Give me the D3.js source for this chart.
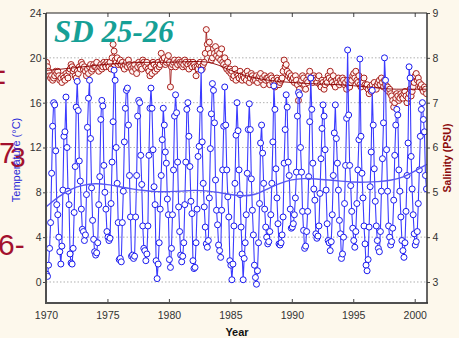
<!DOCTYPE html>
<html><head><meta charset="utf-8">
<script src="https://cdn.jsdelivr.net/npm/d3@7"></script>
<style>body{margin:0;background:#fdf8ec;} svg{display:block}</style>
</head><body><svg id="c" width="459" height="338"></svg>
<script>
const years = [1970,1971,1972,1973,1974,1975,1976,1977,1978,1979,1980,1981,1982,1983,1984,1985,1986,1987,1988,1989,1990,1991,1992,1993,1994,1995,1996,1997,1998,1999,2000];
// monthly temperature (°C), one row per year, Jan..Dec
const temperature = [
 [0.7,0.5,1.5,3.0,5.3,9.7,13.9,16.0,15.8,11.7,6.9,6.0],
 [4.0,2.7,1.6,3.2,8.2,13.0,13.4,16.5,12.0,8.1,6.9,2.5],
 [1.7,1.6,3.0,6.2,10.3,15.6,17.9,15.3,10.8,9.0,6.5,4.7],
 [4.5,3.7,4.2,7.8,13.8,16.4,18.0,12.8,8.4,5.5,3.8,2.7],
 [2.4,2.6,3.5,6.9,9.4,14.5,16.2,15.7,10.4,8.0,6.5,4.5],
 [4.0,3.7,3.9,7.0,10.7,14.3,18.9,18.0,12.0,8.8,5.3,2.0],
 [2.1,1.8,5.3,8.1,12.5,15.5,17.1,17.3,14.0,9.5,5.8,2.3],
 [2.4,2.1,2.3,5.8,9.5,14.8,16.2,16.0,11.3,8.7,5.0,3.0],
 [2.8,1.9,2.5,5.0,11.3,15.5,17.3,15.5,11.8,8.5,6.9,1.9],
 [0.3,1.6,3.5,6.5,9.5,12.7,15.5,14.0,11.6,10.6,7.4,6.0],
 [2.0,1.3,3.0,6.0,10.0,14.8,16.7,15.1,10.7,6.7,4.5,2.4],
 [1.8,2.3,3.5,6.9,10.7,15.4,16.0,13.0,10.3,7.2,6.1,1.9],
 [1.2,1.3,3.5,6.5,11.2,12.1,15.4,18.9,12.5,8.8,6.7,4.9],
 [3.4,3.1,3.7,7.5,11.9,15.0,17.7,17.1,14.2,9.1,6.4,5.1],
 [3.3,2.8,2.2,6.4,10.0,13.9,17.4,14.0,10.0,7.6,5.8,1.9],
 [1.5,0.2,1.6,5.0,8.8,13.1,16.0,13.5,10.0,7.8,4.9,2.5],
 [0.2,2.1,3.5,6.0,9.7,13.6,15.9,13.6,9.2,6.4,4.2,1.5],
 [0.4,-0.2,1.0,3.5,7.0,12.4,14.0,11.5,8.8,6.5,4.9,4.0],
 [3.4,3.6,4.5,6.0,8.8,12.5,17.5,15.4,10.1,7.5,5.2,3.4],
 [3.3,3.5,4.2,5.8,10.6,13.6,16.7,15.6,10.7,9.5,6.5,4.8],
 [4.9,5.2,6.0,7.5,9.8,14.8,16.9,16.7,12.0,9.8,6.3,4.6],
 [3.0,3.2,4.5,6.3,9.4,14.3,18.2,15.4,10.6,8.3,7.3,4.3],
 [3.9,4.1,5.0,7.9,11.0,13.7,15.8,14.8,11.8,8.2,5.2,3.7],
 [3.5,2.8,3.6,6.0,9.5,13.3,15.8,12.8,10.6,8.2,5.5,4.3],
 [2.1,2.5,4.0,7.0,10.4,14.6,20.7,14.9,10.4,8.6,6.3,4.8],
 [3.7,3.1,4.5,7.0,10.0,12.7,19.9,13.0,9.7,7.5,5.0,3.4],
 [1.5,1.0,2.0,4.9,8.5,11.6,17.1,14.0,10.1,7.2,5.0,3.7],
 [3.0,2.7,4.5,8.1,11.0,14.2,20.0,18.0,11.8,8.1,5.0,4.0],
 [3.3,3.6,4.8,7.3,11.3,14.0,15.4,14.9,10.0,8.1,5.8,3.7],
 [2.8,2.2,3.5,6.3,9.5,12.4,19.2,18.2,11.2,8.3,6.0,4.3],
 [3.3,3.6,4.5,7.0,10.0,13.0,15.4,16.0,14.5,13.4,9.5,8.3]
];
// monthly salinity (PSU), one row per year, Jan..Dec
const salinity = [
 [7.9,7.8,7.7,7.6,7.55,7.6,7.5,7.55,7.6,7.7,7.65,7.7],
 [7.6,7.5,7.55,7.45,7.6,7.55,7.5,7.65,7.6,7.55,7.7,7.75],
 [7.85,7.8,7.7,7.75,7.6,7.55,7.7,7.65,7.8,7.75,7.9,7.85],
 [7.75,7.8,7.7,7.6,7.75,7.65,7.8,7.85,7.7,7.75,7.85,7.8],
 [7.8,7.9,7.75,7.7,7.8,7.85,7.75,7.8,7.9,7.85,7.8,7.9],
 [7.85,7.8,7.9,7.75,8.0,8.3,8.15,7.95,7.9,8.0,7.85,7.9],
 [7.95,7.85,7.9,7.8,7.75,7.85,7.9,7.8,7.95,7.85,7.8,7.75],
 [7.7,7.8,7.85,7.75,7.65,7.8,7.9,7.85,7.8,7.75,7.95,7.9],
 [7.85,7.8,7.9,7.75,7.7,7.6,7.8,7.65,7.9,7.85,7.7,7.8],
 [7.75,7.9,7.8,7.85,8.1,7.95,7.9,8.0,7.85,7.9,7.95,8.05],
 [7.9,7.35,7.8,7.85,7.9,7.95,7.8,7.9,7.85,7.95,7.9,7.85],
 [7.9,7.8,7.85,7.95,7.9,7.8,7.85,7.75,7.9,7.85,7.8,7.9],
 [7.85,7.8,7.6,7.8,7.75,7.85,7.9,7.8,7.75,7.85,7.9,8.1],
 [8.63,8.3,8.2,8.35,8.1,7.95,8.0,8.2,8.1,8.25,8.05,8.15],
 [8.0,8.1,7.95,8.2,7.9,7.85,8.0,7.8,7.75,7.9,7.7,7.75],
 [7.65,7.7,7.55,7.6,7.75,7.5,7.65,7.6,7.55,7.7,7.6,7.5],
 [7.6,7.55,7.65,7.5,7.7,7.6,7.45,7.55,7.65,7.6,7.5,7.55],
 [7.5,7.6,7.45,7.55,7.6,7.65,7.5,7.55,7.4,7.6,7.5,7.55],
 [7.55,7.5,7.4,7.6,7.55,7.45,7.5,7.35,7.45,7.55,7.5,7.4],
 [7.45,7.5,7.55,7.7,7.95,7.8,7.85,7.7,7.6,7.65,7.55,7.6],
 [7.5,7.55,7.45,7.6,7.5,7.4,7.05,7.3,7.45,7.5,7.6,7.55],
 [7.4,7.3,7.5,7.45,7.6,7.7,7.55,7.5,7.45,7.6,7.55,7.5],
 [7.45,7.55,7.6,7.4,7.35,7.5,7.45,7.3,7.4,7.5,7.45,7.6],
 [7.55,7.7,7.5,7.45,7.6,7.4,7.35,7.5,7.45,7.55,7.4,7.5],
 [7.45,7.55,7.5,7.4,7.45,7.3,7.5,7.4,7.35,7.45,7.5,7.6],
 [7.65,7.55,7.7,7.5,7.45,7.6,7.4,7.35,7.5,7.45,7.55,7.4],
 [7.35,7.4,7.3,7.2,7.35,7.25,7.4,7.3,7.45,7.35,7.3,7.4],
 [7.45,7.5,7.4,7.55,7.45,7.35,7.5,7.4,7.3,7.35,7.25,7.3],
 [7.2,7.15,7.05,6.9,7.0,7.1,7.2,7.15,7.05,7.1,7.2,7.15],
 [7.1,7.2,7.25,7.15,7.0,7.1,7.2,7.3,7.15,7.25,7.35,7.45],
 [7.6,7.65,7.5,7.55,7.45,7.35,7.4,7.3,7.25,7.35,7.3,7.2]
];
const trendYears = [1970,1971,1972,1973,1974,1975,1976,1977,1978,1979,1980,1981,1982,1983,1984,1985,1986,1987,1988,1989,1990,1991,1992,1993,1994,1995,1996,1997,1998,1999,2000,2001];
const tempTrend = [6.7,7.6,8.3,8.65,8.8,8.7,8.5,8.3,8.15,8.05,8.05,8.1,8.2,8.15,8.0,7.8,7.65,7.75,8.3,8.8,9.15,9.25,9.2,9.1,9.0,8.9,8.9,8.95,9.05,9.3,9.9,10.5];
const salTrend = [7.72,7.74,7.77,7.8,7.83,7.86,7.88,7.89,7.9,7.9,7.9,7.91,7.92,7.92,7.85,7.72,7.62,7.55,7.5,7.47,7.45,7.43,7.42,7.41,7.4,7.38,7.35,7.33,7.3,7.3,7.3,7.3];
const tempTicks = [0,4,8,12,16,20,24];
const salTicks = [3,4,5,6,7,8,9];
const yearTicks = [1970,1975,1980,1985,1990,1995,2000];

const svg = d3.select("#c");
const L = 46, R = 427, T = 13, B = 303;
const x = d3.scaleLinear().domain([1970, 2001]).range([L, R]);
const yT = d3.scaleLinear().domain([-1.875, 24]).range([B, T]);
const yS = d3.scaleLinear().domain([2.53125, 9]).range([B, T]);

const tPts = [], sPts = [];
years.forEach((yr, i) => {
  temperature[i].forEach((v, m) => { if (v != null) tPts.push({t: yr + (m + 0.5) / 12, v}); });
  salinity[i].forEach((v, m) => { if (v != null) sPts.push({t: yr + (m + 0.5) / 12, v}); });
});

svg.append("defs").append("clipPath").attr("id", "clip")
  .append("rect").attr("x", L).attr("y", T).attr("width", R - L).attr("height", B - T);

svg.append("rect").attr("x", L).attr("y", T).attr("width", R - L).attr("height", B - T).attr("fill", "#fff");

// grid
svg.append("g").selectAll("line").data(tempTicks.filter(d => d < 24)).join("line")
  .attr("x1", L).attr("x2", R).attr("y1", d => yT(d)).attr("y2", d => yT(d))
  .attr("stroke", "#b0b0b0").attr("stroke-width", 1).attr("stroke-dasharray", "1.5,2");

const plot = svg.append("g").attr("clip-path", "url(#clip)");

// salinity
plot.append("path").datum(sPts)
  .attr("d", d3.line().x(d => x(d.t)).y(d => yS(d.v)))
  .attr("fill", "none").attr("stroke", "#9a0a0a").attr("stroke-width", 0.8);
plot.append("g").selectAll("circle").data(sPts).join("circle")
  .attr("cx", d => x(d.t)).attr("cy", d => yS(d.v)).attr("r", 3)
  .attr("fill", "#fff4f2").attr("stroke", "#a8201c").attr("stroke-width", 1);
plot.append("path").datum(trendYears.map((t, i) => ({t, v: salTrend[i]})))
  .attr("d", d3.line().curve(d3.curveBasis).x(d => x(d.t)).y(d => yS(d.v)))
  .attr("fill", "none").attr("stroke", "#8a0000").attr("stroke-width", 0.9);

// temperature
plot.append("path").datum(tPts)
  .attr("d", d3.line().x(d => x(d.t)).y(d => yT(d.v)))
  .attr("fill", "none").attr("stroke", "#3c3cff").attr("stroke-width", 1.1);
plot.append("g").selectAll("circle").data(tPts).join("circle")
  .attr("cx", d => x(d.t)).attr("cy", d => yT(d.v)).attr("r", 3)
  .attr("fill", "#fff").attr("stroke", "#1a1aee").attr("stroke-width", 1);
plot.append("path").datum(trendYears.map((t, i) => ({t, v: tempTrend[i]})))
  .attr("d", d3.line().curve(d3.curveBasis).x(d => x(d.t)).y(d => yT(d.v)))
  .attr("fill", "none").attr("stroke", "#5858f2").attr("stroke-width", 1.4);

// axes
const fontCss = "10.5px 'Liberation Sans', Arial, sans-serif";
function styleAxis(g) {
  g.select(".domain").remove();
  g.selectAll("text").style("font", fontCss).attr("fill", "#333");
  g.selectAll("line").attr("stroke", "#444");
}
svg.append("g").attr("transform", `translate(${L},0)`)
  .call(d3.axisLeft(yT).tickValues(tempTicks).tickFormat(d3.format("d")).tickSize(3).tickPadding(1.5)).call(styleAxis);
svg.append("g").attr("transform", `translate(${R},0)`)
  .call(d3.axisRight(yS).tickValues(salTicks).tickFormat(d3.format("d")).tickSize(3).tickPadding(2.5)).call(styleAxis);
svg.append("g").attr("transform", `translate(0,${B})`)
  .call(d3.axisBottom(x).tickValues(yearTicks).tickFormat(d3.format("d")).tickSizeInner(-4).tickSizeOuter(0).tickPadding(8.5)).call(styleAxis);
svg.append("g").attr("transform", `translate(0,${T})`)
  .call(d3.axisTop(x).tickValues(yearTicks).tickFormat("").tickSizeInner(-4).tickSizeOuter(0)).call(styleAxis);

// frame
svg.append("line").attr("x1", L).attr("x2", L).attr("y1", T).attr("y2", B + 1).attr("stroke", "#505050").attr("stroke-width", 2);
svg.append("line").attr("x1", L - 1).attr("x2", R + 1).attr("y1", B).attr("y2", B).attr("stroke", "#505050").attr("stroke-width", 2);
svg.append("line").attr("x1", L).attr("x2", R).attr("y1", T).attr("y2", T).attr("stroke", "#222").attr("stroke-width", 1);
svg.append("line").attr("x1", R).attr("x2", R).attr("y1", T).attr("y2", B).attr("stroke", "#333").attr("stroke-width", 1.5);

// stray slide text at left edge
const red = "#a3112e";
svg.append("text").attr("x", -4).attr("y", 80).text("-").attr("fill", red).style("font", "30px 'Liberation Sans', Arial");
svg.append("text").attr("x", -4).attr("y", 91).text("-").attr("fill", red).style("font", "30px 'Liberation Sans', Arial");
svg.append("text").attr("x", -1).attr("y", 163).text("7").attr("fill", red).style("font", "29px 'Liberation Sans', Arial");
svg.append("text").attr("x", 10).attr("y", 167).text("3").attr("fill", red).style("font", "28px 'Liberation Sans', Arial");
svg.append("text").attr("x", -2).attr("y", 255).text("6-").attr("fill", red).style("font", "30px 'Liberation Sans', Arial");

// labels
svg.append("text").attr("transform", "translate(20,160) rotate(-90)").attr("text-anchor", "middle")
  .text("Temperature (°C)").attr("fill", "#2a2ad8").style("font", "11px 'Liberation Sans', Arial");
svg.append("text").attr("transform", "translate(451,158) rotate(-90)").attr("text-anchor", "middle")
  .text("Salinity (PSU)").attr("fill", "#8c0c0c").style("font", "bold 10.5px 'Liberation Sans', Arial");
svg.append("text").attr("x", 237).attr("y", 336).attr("text-anchor", "middle")
  .text("Year").attr("fill", "#111").style("font", "bold 11px 'Liberation Sans', Arial");
svg.append("text").attr("x", 54).attr("y", 42)
  .text("SD 25-26").attr("fill", "#16a096").style("font", "bold italic 31px 'Liberation Serif', 'Times New Roman', serif");
</script>
</body></html>
